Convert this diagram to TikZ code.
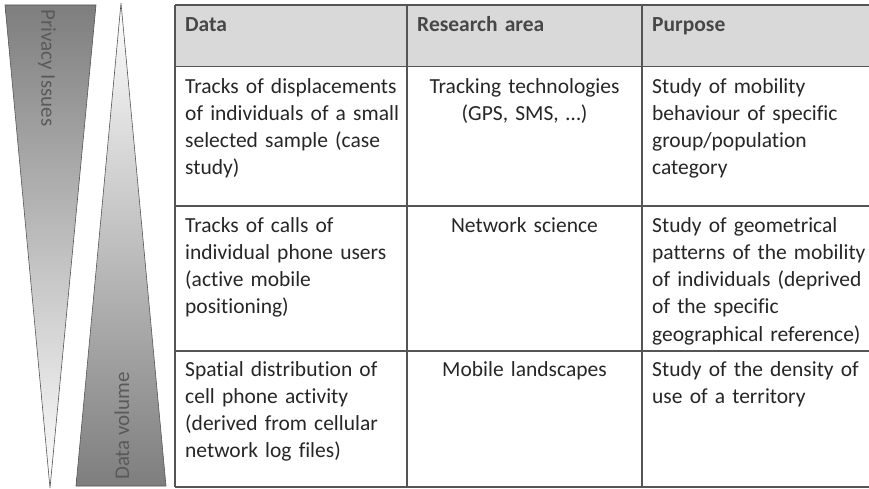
\documentclass[tikz,border=0pt]{standalone}
\usepackage{fontspec}
\setmainfont{Carlito}[Ligatures=NoCommon]
\usetikzlibrary{positioning}
\definecolor{headgray}{HTML}{D9D9D9}
\definecolor{textgray}{HTML}{262626}
\definecolor{linegray}{HTML}{555555}
\definecolor{wedgedark}{HTML}{7E7E7E}
\definecolor{wedgetext}{HTML}{5A5A5A}
\tikzset{
  cellfont/.style={font=\fontsize{21.5}{27.2}\selectfont, text=textgray},
  celltext/.style={cellfont, anchor=north west, inner sep=0pt, text width=240pt,
    align=left, execute at begin node=\rule{0pt}{19pt}},
  centertext/.style={cellfont, anchor=north, inner sep=0pt, text width=230pt,
    align=center, execute at begin node=\rule{0pt}{19pt}},
  headtext/.style={celltext, font=\fontsize{21.5}{27.2}\selectfont\bfseries, text=textgray!85!white},
  gridline/.style={linegray, line width=1.2pt},
  wedge/.style={draw=linegray, line width=0.6pt},
  wedgelabel/.style={font=\fontsize{21}{25}\selectfont, text=wedgetext, inner sep=0pt}
}
\begin{document}
\begin{tikzpicture}[x=1pt,y=-1pt]
\useasboundingbox (0,0) rectangle (869,489);
%%% the two wedges on the left
\shade[wedge, top color=wedgedark, bottom color=white] (5,5) -- (96,5) -- (50,488) -- cycle;
\shade[wedge, top color=white, bottom color=wedgedark] (121,3) -- (166,486) -- (76,486) -- cycle;
\node[wedgelabel, rotate=-90] (privacy) at (47,68) {Privacy Issues};
\node[wedgelabel, rotate=90] (volume) at (122,426) {Data volume};
%%% header band
\fill[headgray] (175,5) rectangle (869,66.5);
%%% grid
\foreach \y in {5,66.5,206,351,487}
  \draw[gridline] (175,\y) -- (869,\y);
\foreach \x in {175,407,642}
  \draw[gridline] (\x,5) -- (\x,487);
%%% header
\node[headtext] (hdata) at (185,12) {Data};
\node[headtext] (harea) at (417,12) {Research area};
\node[headtext] (hpurp) at (652,12) {Purpose};
%%% row 1
\node[celltext] (data1) at (185,74) {Tracks of displacements\\of individuals of a small\\selected sample (case\\study)};
\node[centertext] (area1) at (524.5,74) {Tracking technologies\\(GPS, SMS, …)};
\node[celltext] (purp1) at (652,74) {Study of mobility\\behaviour of specific\\group/population\\category};
%%% row 2
\node[celltext] (data2) at (185,213) {Tracks of calls of\\individual phone users\\(active mobile\\positioning)};
\node[centertext] (area2) at (524.5,213) {Network science};
\node[celltext] (purp2) at (652,213) {Study of geometrical\\patterns of the mobility\\of individuals (deprived\\of the specific\\geographical reference)};
%%% row 3
\node[celltext] (data3) at (185,357) {Spatial distribution of\\cell phone activity\\(derived from cellular\\network log files)};
\node[centertext] (area3) at (524.5,357) {Mobile landscapes};
\node[celltext] (purp3) at (652,357) {Study of the density of\\use of a territory};
\end{tikzpicture}
\end{document}
